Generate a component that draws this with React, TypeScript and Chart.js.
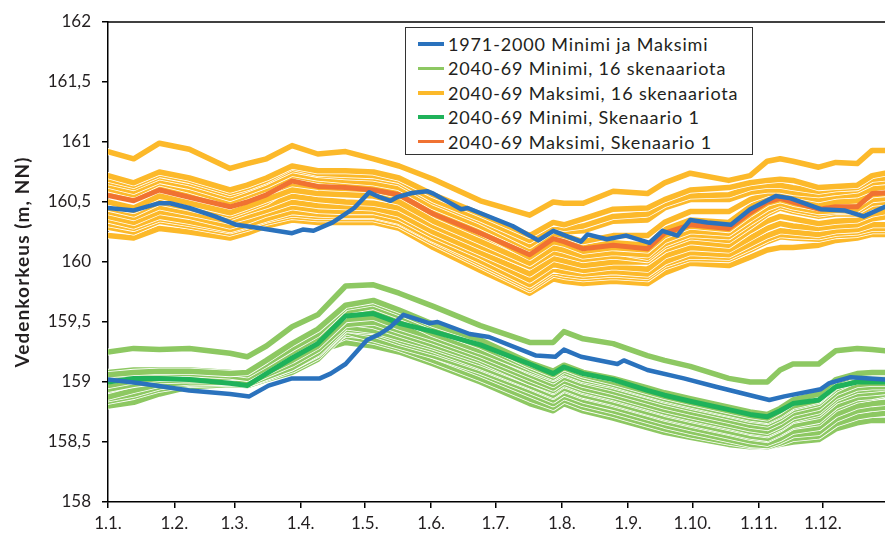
import { useEffect, useRef } from 'react';
import { Chart, registerables } from 'chart.js';

Chart.register(...registerables);

// Day of year (0 = 1.1.) where each month starts, with its axis label
const MONTH_START_DAYS = [0, 31, 59, 90, 120, 151, 181, 212, 243, 273, 304, 334];
const MONTH_LABELS = ['1.1.', '1.2.', '1.3.', '1.4.', '1.5.', '1.6.', '1.7.', '1.8.', '1.9.', '1.10.', '1.11.', '1.12.'];

// 1971-2000 observed extremes
const BLUE_MAX_DAYS = [0, 12, 24, 29, 38, 50, 60, 72, 86, 91, 96, 105, 115, 122, 127, 132, 135, 142, 149, 152, 165, 168, 189, 201, 208, 221, 224, 233, 242, 253, 259, 266, 272, 280, 291, 300, 312, 319, 333, 344, 353, 363];
const BLUE_MAX = [160.45, 160.43, 160.49, 160.49, 160.45, 160.38, 160.31, 160.28, 160.24, 160.27, 160.26, 160.33, 160.45, 160.58, 160.54, 160.51, 160.54, 160.575, 160.59, 160.57, 160.44, 160.45, 160.30, 160.18, 160.26, 160.17, 160.23, 160.19, 160.22, 160.16, 160.26, 160.22, 160.35, 160.33, 160.31, 160.44, 160.55, 160.53, 160.44, 160.43, 160.38, 160.46];

const BLUE_MIN_DAYS = [0, 15, 38, 57, 66, 75, 86, 99, 104, 111, 121, 127, 132, 138, 150, 154, 169, 178, 200, 209, 213, 221, 238, 241, 252, 269, 284, 300, 309, 316, 333, 337, 347, 363];
const BLUE_MIN = [159.02, 158.99, 158.93, 158.90, 158.88, 158.97, 159.03, 159.03, 159.07, 159.15, 159.35, 159.40, 159.46, 159.56, 159.49, 159.50, 159.40, 159.375, 159.22, 159.21, 159.27, 159.21, 159.15, 159.18, 159.10, 159.03, 158.96, 158.89, 158.85, 158.88, 158.94, 158.99, 159.04, 159.02];

// Sampling days shared by the 2040-69 scenario series
const SCEN_DAYS = [0, 12, 24, 38, 57, 65, 74, 86, 98, 111, 124, 136, 152, 174, 197, 208, 213, 222, 236, 252, 260, 272, 290, 300, 308, 314, 320, 332, 340, 350, 357, 363];

// Scenario 1
const MAX_SCEN1 = [160.555, 160.51, 160.60, 160.54, 160.46, 160.50, 160.56, 160.675, 160.63, 160.62, 160.60, 160.56, 160.40, 160.24, 160.06, 160.195, 160.17, 160.11, 160.14, 160.11, 160.24, 160.31, 160.28, 160.41, 160.50, 160.53, 160.50, 160.44, 160.46, 160.46, 160.57, 160.575];
const MIN_SCEN1 = [159.00, 159.03, 159.03, 159.02, 158.99, 158.97, 159.07, 159.20, 159.32, 159.55, 159.57, 159.49, 159.42, 159.31, 159.15, 159.07, 159.125, 159.07, 159.02, 158.93, 158.89, 158.84, 158.77, 158.73, 158.71, 158.76, 158.82, 158.85, 158.96, 159.00, 159.00, 159.00];

// Maxima of the 16 scenarios
const MAX_RUNS = [
  [160.92, 160.86, 160.99, 160.94, 160.78, 160.82, 160.86, 160.97, 160.90, 160.92, 160.86, 160.80, 160.69, 160.51, 160.39, 160.50, 160.49, 160.49, 160.59, 160.57, 160.66, 160.74, 160.68, 160.72, 160.84, 160.86, 160.84, 160.79, 160.83, 160.82, 160.93, 160.93],
  [160.72, 160.66, 160.75, 160.70, 160.60, 160.64, 160.70, 160.80, 160.76, 160.76, 160.75, 160.70, 160.56, 160.40, 160.22, 160.33, 160.31, 160.36, 160.44, 160.45, 160.52, 160.60, 160.62, 160.66, 160.68, 160.69, 160.68, 160.62, 160.63, 160.64, 160.72, 160.74],
  [160.69, 160.64, 160.73, 160.68, 160.58, 160.62, 160.68, 160.79, 160.74, 160.73, 160.72, 160.68, 160.52, 160.36, 160.18, 160.30, 160.28, 160.30, 160.38, 160.40, 160.48, 160.55, 160.56, 160.62, 160.64, 160.64, 160.62, 160.59, 160.61, 160.62, 160.69, 160.70],
  [160.67, 160.62, 160.71, 160.66, 160.56, 160.61, 160.67, 160.77, 160.73, 160.71, 160.70, 160.66, 160.50, 160.34, 160.14, 160.27, 160.25, 160.26, 160.34, 160.35, 160.45, 160.52, 160.52, 160.58, 160.60, 160.60, 160.58, 160.56, 160.58, 160.60, 160.66, 160.67],
  [160.64, 160.59, 160.68, 160.63, 160.53, 160.58, 160.64, 160.74, 160.70, 160.68, 160.66, 160.62, 160.46, 160.30, 160.11, 160.24, 160.22, 160.17, 160.22, 160.22, 160.33, 160.42, 160.42, 160.52, 160.57, 160.58, 160.56, 160.52, 160.55, 160.56, 160.61, 160.625],
  [160.61, 160.56, 160.66, 160.60, 160.50, 160.55, 160.61, 160.72, 160.68, 160.66, 160.63, 160.59, 160.43, 160.26, 160.08, 160.21, 160.19, 160.12, 160.16, 160.14, 160.27, 160.35, 160.33, 160.46, 160.54, 160.56, 160.53, 160.48, 160.50, 160.51, 160.60, 160.61],
  [160.58, 160.53, 160.63, 160.57, 160.48, 160.53, 160.59, 160.70, 160.66, 160.64, 160.62, 160.58, 160.42, 160.25, 160.04, 160.17, 160.15, 160.09, 160.12, 160.10, 160.22, 160.30, 160.27, 160.40, 160.49, 160.52, 160.49, 160.45, 160.47, 160.48, 160.56, 160.57],
  [160.50, 160.45, 160.55, 160.49, 160.41, 160.46, 160.52, 160.60, 160.57, 160.56, 160.55, 160.50, 160.34, 160.17, 159.99, 160.12, 160.10, 160.05, 160.08, 160.06, 160.18, 160.26, 160.24, 160.36, 160.45, 160.49, 160.46, 160.42, 160.43, 160.44, 160.52, 160.53],
  [160.47, 160.43, 160.52, 160.47, 160.39, 160.44, 160.50, 160.63, 160.60, 160.58, 160.57, 160.52, 160.36, 160.20, 160.02, 160.14, 160.12, 160.06, 160.09, 160.04, 160.15, 160.23, 160.21, 160.33, 160.42, 160.47, 160.44, 160.40, 160.42, 160.42, 160.49, 160.50],
  [160.45, 160.40, 160.50, 160.45, 160.37, 160.42, 160.47, 160.55, 160.52, 160.50, 160.49, 160.45, 160.30, 160.13, 159.96, 160.08, 160.06, 160.02, 160.05, 160.02, 160.13, 160.21, 160.18, 160.30, 160.40, 160.45, 160.42, 160.38, 160.40, 160.40, 160.46, 160.48],
  [160.42, 160.37, 160.46, 160.41, 160.34, 160.38, 160.43, 160.50, 160.47, 160.46, 160.45, 160.40, 160.25, 160.08, 159.90, 160.03, 160.01, 159.97, 160.00, 160.00, 160.10, 160.17, 160.14, 160.26, 160.34, 160.38, 160.36, 160.32, 160.34, 160.35, 160.40, 160.42],
  [160.38, 160.33, 160.42, 160.38, 160.30, 160.34, 160.40, 160.46, 160.43, 160.42, 160.42, 160.37, 160.22, 160.05, 159.85, 159.98, 159.96, 159.93, 159.96, 159.94, 160.05, 160.12, 160.10, 160.20, 160.28, 160.32, 160.30, 160.28, 160.30, 160.31, 160.36, 160.375],
  [160.35, 160.30, 160.38, 160.34, 160.27, 160.31, 160.36, 160.42, 160.40, 160.39, 160.39, 160.34, 160.19, 160.01, 159.81, 159.94, 159.92, 159.90, 159.92, 159.90, 160.00, 160.08, 160.06, 160.15, 160.22, 160.26, 160.25, 160.23, 160.26, 160.27, 160.31, 160.31],
  [160.32, 160.28, 160.36, 160.32, 160.26, 160.30, 160.35, 160.40, 160.38, 160.38, 160.38, 160.33, 160.18, 159.99, 159.79, 159.92, 159.90, 159.88, 159.90, 159.88, 159.98, 160.05, 160.04, 160.12, 160.19, 160.23, 160.22, 160.21, 160.24, 160.25, 160.28, 160.28],
  [160.29, 160.25, 160.34, 160.30, 160.24, 160.28, 160.33, 160.38, 160.36, 160.36, 160.36, 160.31, 160.16, 159.97, 159.77, 159.90, 159.88, 159.86, 159.88, 159.86, 159.96, 160.03, 160.02, 160.10, 160.17, 160.21, 160.20, 160.19, 160.22, 160.23, 160.26, 160.26],
  [160.22, 160.20, 160.28, 160.25, 160.20, 160.24, 160.30, 160.35, 160.33, 160.33, 160.33, 160.28, 160.12, 159.93, 159.74, 159.86, 159.84, 159.82, 159.84, 159.82, 159.91, 159.99, 159.97, 160.04, 160.10, 160.12, 160.12, 160.14, 160.18, 160.20, 160.23, 160.23],
];

// Minima of the 16 scenarios
const MIN_RUNS = [
  [159.25, 159.28, 159.27, 159.28, 159.24, 159.21, 159.30, 159.46, 159.56, 159.80, 159.81, 159.74, 159.63, 159.47, 159.33, 159.33, 159.42, 159.36, 159.32, 159.22, 159.18, 159.13, 159.03, 159.00, 159.00, 159.10, 159.15, 159.15, 159.26, 159.28, 159.27, 159.26],
  [159.06, 159.08, 159.09, 159.09, 159.07, 159.08, 159.18, 159.32, 159.44, 159.64, 159.68, 159.60, 159.48, 159.35, 159.16, 159.09, 159.14, 159.08, 159.03, 158.95, 158.91, 158.86, 158.79, 158.75, 158.73, 158.78, 158.85, 158.90, 159.02, 159.07, 159.08, 159.08],
  [159.08, 159.10, 159.10, 159.10, 159.08, 159.06, 159.15, 159.28, 159.40, 159.62, 159.66, 159.58, 159.46, 159.33, 159.14, 159.06, 159.12, 159.06, 159.00, 158.92, 158.88, 158.83, 158.76, 158.72, 158.70, 158.76, 158.83, 158.88, 159.00, 159.06, 159.07, 159.07],
  [159.05, 159.07, 159.08, 159.07, 159.05, 159.03, 159.12, 159.25, 159.37, 159.59, 159.63, 159.55, 159.44, 159.30, 159.12, 159.04, 159.10, 159.04, 158.98, 158.90, 158.86, 158.81, 158.74, 158.70, 158.68, 158.73, 158.80, 158.85, 158.97, 159.04, 159.05, 159.05],
  [159.01, 159.04, 159.05, 159.04, 159.04, 159.04, 159.13, 159.26, 159.36, 159.56, 159.60, 159.53, 159.40, 159.26, 159.10, 159.03, 159.08, 159.02, 158.97, 158.89, 158.85, 158.80, 158.73, 158.69, 158.67, 158.72, 158.79, 158.84, 158.96, 159.01, 159.02, 159.02],
  [159.03, 159.05, 159.06, 159.05, 159.03, 159.01, 159.10, 159.22, 159.35, 159.58, 159.61, 159.52, 159.41, 159.27, 159.09, 159.01, 159.07, 159.01, 158.95, 158.87, 158.83, 158.78, 158.71, 158.67, 158.65, 158.70, 158.77, 158.82, 158.94, 159.02, 159.03, 159.03],
  [158.97, 159.01, 159.03, 159.03, 159.02, 159.00, 159.08, 159.18, 159.30, 159.52, 159.54, 159.46, 159.37, 159.23, 159.06, 158.98, 159.04, 158.98, 158.92, 158.84, 158.80, 158.75, 158.68, 158.64, 158.62, 158.67, 158.74, 158.79, 158.91, 158.98, 158.99, 158.99],
  [158.94, 158.98, 159.01, 159.02, 159.01, 158.99, 159.06, 159.15, 159.27, 159.48, 159.50, 159.43, 159.34, 159.20, 159.03, 158.95, 159.01, 158.95, 158.89, 158.81, 158.77, 158.72, 158.65, 158.61, 158.59, 158.64, 158.71, 158.76, 158.88, 158.95, 158.96, 158.96],
  [159.00, 159.02, 159.04, 159.04, 159.06, 159.05, 159.10, 159.20, 159.32, 159.50, 159.47, 159.40, 159.31, 159.18, 159.00, 158.93, 158.99, 158.93, 158.87, 158.79, 158.75, 158.70, 158.63, 158.59, 158.57, 158.62, 158.69, 158.74, 158.86, 158.93, 158.94, 158.95],
  [158.875, 158.93, 158.98, 159.00, 159.00, 158.98, 159.04, 159.12, 159.24, 159.46, 159.43, 159.37, 159.29, 159.16, 159.00, 158.92, 158.98, 158.92, 158.86, 158.78, 158.74, 158.69, 158.62, 158.58, 158.56, 158.61, 158.68, 158.72, 158.84, 158.90, 158.91, 158.92],
  [158.86, 158.90, 158.96, 158.99, 159.00, 158.99, 159.04, 159.12, 159.23, 159.44, 159.42, 159.35, 159.27, 159.13, 158.97, 158.89, 158.95, 158.89, 158.83, 158.75, 158.71, 158.66, 158.59, 158.55, 158.53, 158.58, 158.64, 158.68, 158.80, 158.87, 158.88, 158.90],
  [158.84, 158.88, 158.94, 158.98, 158.99, 158.98, 159.03, 159.10, 159.21, 159.44, 159.40, 159.33, 159.25, 159.12, 158.96, 158.88, 158.94, 158.88, 158.82, 158.74, 158.70, 158.65, 158.58, 158.54, 158.52, 158.57, 158.63, 158.66, 158.78, 158.85, 158.87, 158.89],
  [158.80, 158.83, 158.90, 158.96, 158.98, 158.97, 159.02, 159.08, 159.19, 159.42, 159.36, 159.30, 159.22, 159.09, 158.93, 158.85, 158.91, 158.85, 158.79, 158.71, 158.67, 158.62, 158.55, 158.51, 158.49, 158.53, 158.59, 158.62, 158.73, 158.80, 158.82, 158.83],
  [158.90, 158.95, 158.99, 159.01, 159.00, 158.98, 159.05, 159.14, 159.26, 159.40, 159.38, 159.33, 159.22, 159.07, 158.90, 158.82, 158.88, 158.82, 158.76, 158.68, 158.64, 158.59, 158.52, 158.48, 158.47, 158.51, 158.56, 158.58, 158.69, 158.76, 158.78, 158.79],
  [158.96, 158.99, 159.02, 159.03, 159.02, 159.00, 159.06, 159.16, 159.28, 159.38, 159.34, 159.28, 159.18, 159.03, 158.86, 158.79, 158.85, 158.79, 158.73, 158.65, 158.61, 158.56, 158.50, 158.47, 158.46, 158.49, 158.53, 158.55, 158.65, 158.71, 158.73, 158.74],
  [158.99, 159.02, 159.04, 159.05, 159.03, 159.01, 159.08, 159.18, 159.26, 159.33, 159.30, 159.25, 159.15, 159.00, 158.82, 158.76, 158.82, 158.76, 158.70, 158.62, 158.58, 158.54, 158.48, 158.46, 158.46, 158.48, 158.50, 158.52, 158.61, 158.66, 158.68, 158.68],
];

const BLUE = '#2a72bd';
const LIGHT_GREEN = '#8dc862';
const LIGHT_ORANGE = '#fcb92a';
const DARK_GREEN = '#1fb25a';
const DARK_ORANGE = '#f07232';

const LEGEND_ITEMS = [
  { label: '1971-2000 Minimi ja Maksimi', color: BLUE },
  { label: '2040-69 Minimi, 16 skenaariota', color: LIGHT_GREEN },
  { label: '2040-69 Maksimi, 16 skenaariota', color: LIGHT_ORANGE },
  { label: '2040-69 Minimi, Skenaario 1', color: DARK_GREEN },
  { label: '2040-69 Maksimi, Skenaario 1', color: DARK_ORANGE },
];

const Y_TITLE = 'Vedenkorkeus (m, NN)';

const FONT = 'Lato, "DejaVu Sans", sans-serif';
const TEXT = '#231f20';

const toPoints = (days: number[], values: number[]) => days.map((d, i) => ({ x: d, y: values[i] }));

// Strokes a white edge under a scenario line so neighbouring lines stay apart
const whiteEdge = {
  id: 'whiteEdge',
  beforeDatasetDraw(chart: any, args: any) {
    const ds = chart.data.datasets[args.index];
    if (!ds.edge) return;
    const pts = args.meta.data;
    const { ctx, chartArea: a } = chart;
    ctx.save();
    ctx.beginPath();
    ctx.rect(a.left, a.top - 10, a.right - a.left, a.bottom - a.top + 10);
    ctx.clip();
    ctx.beginPath();
    pts.forEach((p: any, i: number) => (i ? ctx.lineTo(p.x, p.y) : ctx.moveTo(p.x, p.y)));
    ctx.lineWidth = ds.borderWidth + 1.6;
    ctx.strokeStyle = '#ffffff';
    ctx.lineJoin = 'round';
    ctx.lineCap = 'round';
    ctx.stroke();
    ctx.restore();
  },
};

// Top edge of the plot frame and the rotated value-axis title
const frameAndTitle = {
  id: 'frameAndTitle',
  beforeDatasetsDraw(chart: any) {
    const { ctx, chartArea: a } = chart;
    ctx.save();
    ctx.strokeStyle = '#000';
    ctx.lineWidth = 1.5;
    ctx.beginPath();
    ctx.moveTo(a.left, a.top);
    ctx.lineTo(a.right, a.top);
    ctx.stroke();
    ctx.restore();
  },
  afterDraw(chart: any) {
    const { ctx, chartArea: a } = chart;
    ctx.save();
    ctx.translate(28.5, (a.top + a.bottom) / 2);
    ctx.rotate(-Math.PI / 2);
    ctx.font = `bold 19px ${FONT}`;
    if ('letterSpacing' in ctx) (ctx as any).letterSpacing = '1.1px';
    ctx.fillStyle = TEXT;
    ctx.textAlign = 'center';
    ctx.textBaseline = 'alphabetic';
    ctx.fillText(Y_TITLE, 0, 0);
    ctx.restore();
  },
};

export default function App() {
  const canvasRef = useRef<HTMLCanvasElement>(null);

  useEffect(() => {
    const line = (data: any[], color: string, width: number, edge: boolean) => ({
      data,
      borderColor: color,
      backgroundColor: color,
      borderWidth: width,
      pointRadius: 0,
      fill: false,
      tension: 0,
      borderJoinStyle: 'round',
      borderCapStyle: 'round',
      edge,
    });

    const datasets = [
      line(toPoints(BLUE_MAX_DAYS, BLUE_MAX), BLUE, 4.5, false),
      line(toPoints(BLUE_MIN_DAYS, BLUE_MIN), BLUE, 4.5, false),
      line(toPoints(SCEN_DAYS, MAX_SCEN1), DARK_ORANGE, 5, false),
      line(toPoints(SCEN_DAYS, MIN_SCEN1), DARK_GREEN, 5, false),
      ...MAX_RUNS.map((r) => line(toPoints(SCEN_DAYS, r), LIGHT_ORANGE, 5.5, true)),
      ...MIN_RUNS.map((r) => line(toPoints(SCEN_DAYS, r), LIGHT_GREEN, 5.5, true)),
    ];

    const tickFont = { family: FONT, size: 17 };

    const chart = new Chart(canvasRef.current as HTMLCanvasElement, {
      type: 'line',
      data: { datasets: datasets as any },
      options: {
        responsive: false,
        animation: false,
        devicePixelRatio: 1,
        layout: { padding: { top: 22, right: 0, bottom: 0, left: 0 } },
        plugins: { legend: { display: false }, tooltip: { enabled: false } },
        scales: {
          x: {
            type: 'linear',
            min: 0,
            max: 363,
            afterBuildTicks: (scale: any) => {
              scale.ticks = MONTH_START_DAYS.map((v) => ({ value: v }));
            },
            afterFit: (scale: any) => {
              scale.height = 35;
            },
            ticks: {
              autoSkip: false,
              maxRotation: 0,
              padding: 5,
              font: tickFont,
              color: TEXT,
              callback: (_v: any, i: number) => MONTH_LABELS[i],
            },
            grid: { drawOnChartArea: false, drawTicks: true, tickLength: 6, color: '#000', lineWidth: 1.5 },
            border: { color: '#000', width: 1.5 },
          },
          y: {
            min: 158,
            max: 162,
            afterFit: (scale: any) => {
              scale.width = 108;
            },
            ticks: {
              stepSize: 0.5,
              padding: 11,
              font: tickFont,
              color: TEXT,
              callback: (v: any) => String(v).replace('.', ','),
            },
            grid: { drawOnChartArea: false, drawTicks: true, tickLength: 6, color: '#000', lineWidth: 1.5 },
            border: { color: '#000', width: 1.5 },
          },
        },
      },
      plugins: [whiteEdge, frameAndTitle],
    });

    return () => chart.destroy();
  }, []);

  return (
    <div style={{ position: 'absolute', left: 0, top: 0, width: 885, height: 537, background: '#fff', overflow: 'hidden' }}>
      <canvas ref={canvasRef} width={885} height={537} style={{ display: 'block' }} />
      <div
        style={{
          position: 'absolute',
          left: 405,
          top: 27,
          width: 348,
          height: 128,
          boxSizing: 'border-box',
          border: '1px solid #333',
          background: '#fff',
        }}
      >
        {LEGEND_ITEMS.map((item, i) => (
          <div
            key={item.label}
            style={{
              position: 'absolute',
              left: 12,
              top: 3 + i * 24.4,
              height: 26,
              display: 'flex',
              alignItems: 'center',
              whiteSpace: 'nowrap',
            }}
          >
            <span style={{ display: 'inline-block', width: 26, height: 3.5, background: item.color, marginRight: 4 }} />
            <span style={{ fontFamily: FONT, fontSize: 18, letterSpacing: 0.85, color: TEXT, lineHeight: '26px' }}>{item.label}</span>
          </div>
        ))}
      </div>
    </div>
  );
}
